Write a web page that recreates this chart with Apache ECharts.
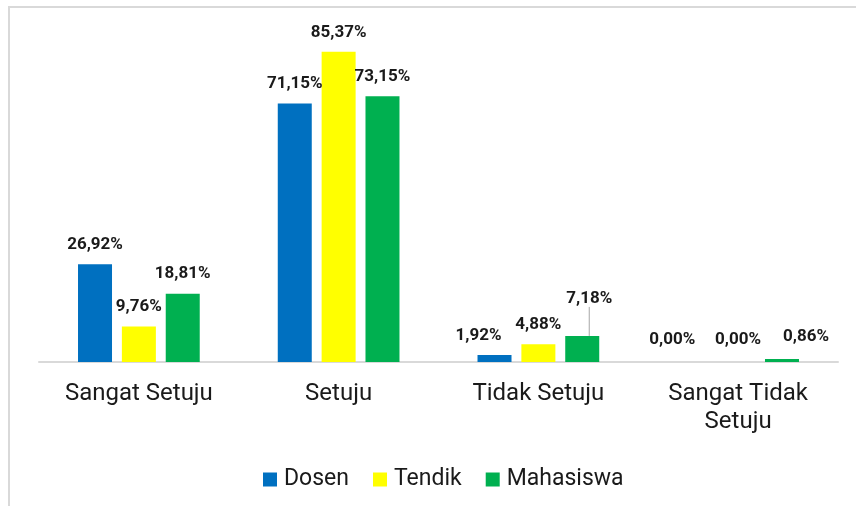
<!DOCTYPE html>
<html>
<head>
<meta charset="utf-8">
<script src="https://cdn.jsdelivr.net/npm/echarts@6/dist/echarts.min.js"></script>
<style>
  html, body { margin: 0; padding: 0; background: #fff; }
  #frame { position: absolute; left: 8px; top: 6px; width: 900px; height: 600px;
           border-top: 2px solid #d9d9d9; border-left: 2px solid #d9d9d9; }
  #chart { position: absolute; left: 0; top: 0; width: 856px; height: 506px; }
</style>
</head>
<body>
<div id="frame"></div>
<div id="chart"></div>
<script>
// ---- data ----
var categories = ['Sangat Setuju', 'Setuju', 'Tidak Setuju', 'Sangat Tidak\nSetuju'];
var dosen = [26.92, 71.15, 1.92, 0.00];
var tendik = [9.76, 85.37, 4.88, 0.00];
var mahasiswa = [18.81, 73.15, 7.18, 0.86];

var seriesNames = ['Dosen', 'Tendik', 'Mahasiswa'];
var seriesColors = ['#0070C0', '#FFFF00', '#00B050'];

// label nudges [series-dataIndex] -> [dx, dy], like the manual moves in the source chart
var labelNudge = {
  '0-2': [-16, 0],
  '0-3': [-22, -3],
  '1-3': [0, -3],
  '2-2': [7, -18],
  '2-3': [24, -3]
};

function fmtPct(v) {
  return v.toFixed(2).replace('.', ',') + '%';
}

function buildSeries(idx, values) {
  return {
    name: seriesNames[idx],
    type: 'bar',
    barWidth: 34,
    barGap: '29%',
    itemStyle: { color: seriesColors[idx] },
    data: values.map(function (v, i) {
      var item = { value: v };
      if (idx === 2 && i === 2) item.labelLine = { show: true };
      return item;
    }),
    label: {
      show: true,
      position: 'top',
      distance: 11,
      color: '#1a1a1a',
      fontFamily: 'Roboto',
      fontWeight: 'bold',
      fontSize: 17,
      formatter: function (p) { return fmtPct(p.value); }
    },
    labelLine: { show: false, lineStyle: { color: '#a6a6a6', width: 1 } },
    labelLayout: function (p) {
      var n = labelNudge[p.seriesIndex + '-' + p.dataIndex];
      return n ? { dx: n[0], dy: n[1] } : {};
    }
  };
}

var chart = echarts.init(document.getElementById('chart'));
chart.setOption({
  backgroundColor: 'transparent',
  animation: false,
  grid: { left: 39, right: 18, top: 35, bottom: 144 },
  legend: {
    top: 468,
    left: 263,
    padding: 0,
    itemWidth: 14,
    itemHeight: 14,
    itemGap: 24,
    icon: 'rect',
    textStyle: { fontFamily: 'Roboto', fontSize: 23, color: '#1a1a1a', padding: [0, 0, 0, 2] },
    data: seriesNames
  },
  xAxis: {
    type: 'category',
    data: categories,
    axisLine: { lineStyle: { color: '#d9d9d9', width: 2 } },
    axisTick: { show: false },
    axisLabel: {
      margin: 18,
      fontFamily: 'Roboto',
      fontSize: 24,
      lineHeight: 28,
      color: '#1a1a1a',
      interval: 0
    }
  },
  yAxis: {
    type: 'value',
    min: 0,
    max: 90,
    show: false
  },
  series: [
    buildSeries(0, dosen),
    buildSeries(1, tendik),
    buildSeries(2, mahasiswa)
  ]
});
</script>
</body>
</html>
